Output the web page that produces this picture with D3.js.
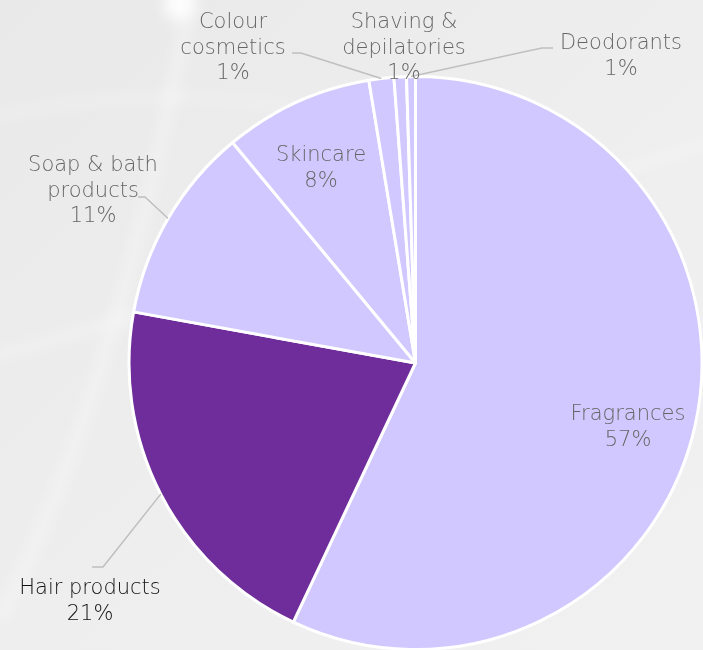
<!DOCTYPE html>
<html>
<head>
<meta charset="utf-8">
<script src="https://cdn.jsdelivr.net/npm/d3@7"></script>
<style>
  html, body { margin: 0; padding: 0; background: #eeeeee; }
  svg { display: block; }
  text { font-family: "DejaVu Sans", sans-serif; font-weight: 200; }
</style>
</head>
<body>
<svg id="chart"></svg>
<script>
const width = 703;
const height = 650;

// Data (share of sales, %)
const categories = ["Fragrances", "Hair products", "Soap & bath products", "Skincare",
  "Colour cosmetics", "Shaving & depilatories", "Deodorants"];
const values = [56.9, 20.8, 11.1, 8.4, 1.4, 0.7, 0.5];
const labelLines = [
  ["Fragrances"],
  ["Hair products"],
  ["Soap & bath", "products"],
  ["Skincare"],
  ["Colour", "cosmetics"],
  ["Shaving &", "depilatories"],
  ["Deodorants"]
];

// layout of the labels (x centre, first baseline, optional elbow for leader line)
const labelLayout = [
  { x: 628, y: 420 },
  { x: 90, y: 594, elbow: [[92, 567], [103, 567]], dark: true },
  { x: 93, y: 171, elbow: [[138, 197], [145, 197]] },
  { x: 321, y: 161 },
  { x: 233, y: 28, elbow: [[292, 53], [301, 53]] },
  { x: 404, y: 28 },
  { x: 621, y: 49, elbow: [[553, 48], [542, 48]] }
];

const colors = ["#d0c8ff", "#6f2d9b", "#d0c8ff", "#d0c8ff", "#d0c8ff", "#d0c8ff", "#d0c8ff"];

const cx = 415.5, cy = 363, radius = 286.5;

const svg = d3.select("#chart")
  .attr("width", width)
  .attr("height", height);

// background
const defs = svg.append("defs");
const bg = defs.append("linearGradient").attr("id", "bg")
  .attr("x1", "0%").attr("y1", "0%").attr("x2", "100%").attr("y2", "100%");
bg.append("stop").attr("offset", "0%").attr("stop-color", "#e9e9e9");
bg.append("stop").attr("offset", "50%").attr("stop-color", "#eeeeee");
bg.append("stop").attr("offset", "100%").attr("stop-color", "#f1f1f1");
defs.append("filter").attr("id", "blur").append("feGaussianBlur").attr("stdDeviation", 7);

svg.append("rect").attr("width", width).attr("height", height).attr("fill", "url(#bg)");

const glow = svg.append("g").attr("filter", "url(#blur)").attr("fill", "none").attr("stroke", "#ffffff");
glow.append("path").attr("d", "M-20,360 Q200,300 720,140").attr("stroke-width", 8).attr("opacity", 0.4);
glow.append("path").attr("d", "M0,620 Q120,380 190,0").attr("stroke-width", 12).attr("opacity", 0.35);
glow.append("circle").attr("cx", 180).attr("cy", 4).attr("r", 16).attr("fill", "#ffffff").attr("opacity", 0.9);
glow.append("path").attr("d", "M-20,120 Q150,80 300,110").attr("stroke-width", 8).attr("opacity", 0.3);

// pie
const pie = d3.pie().sort(null).value(d => d.value);
const data = pie(categories.map((c, i) => ({ name: c, value: values[i], i })));
const total = d3.sum(values);

const arc = d3.arc().innerRadius(0).outerRadius(radius);
const edgeArc = d3.arc().innerRadius(radius).outerRadius(radius);

const g = svg.append("g").attr("transform", `translate(${cx},${cy})`);

g.selectAll("path.slice")
  .data(data)
  .enter().append("path")
  .attr("class", "slice")
  .attr("d", arc)
  .attr("fill", d => colors[d.data.i])
  .attr("stroke", "#ffffff")
  .attr("stroke-width", 3)
  .attr("stroke-linejoin", "round");

// leader lines
data.forEach(d => {
  const lay = labelLayout[d.data.i];
  if (!lay.elbow) return;
  const [ex, ey] = edgeArc.centroid(d);
  const pts = lay.elbow.concat([[ex + cx, ey + cy]]);
  svg.append("path")
    .attr("d", d3.line()(pts))
    .attr("fill", "none")
    .attr("stroke", "#bfbfbf")
    .attr("stroke-width", 1.5);
});

// labels
data.forEach(d => {
  const lay = labelLayout[d.data.i];
  const lines = labelLines[d.data.i].concat([Math.round(d.data.value / total * 100) + "%"]);
  const t = svg.append("text")
    .attr("text-anchor", "middle")
    .attr("font-size", 21)
    .attr("fill", lay.dark ? "#111111" : "#666666");
  lines.forEach((l, k) => {
    t.append("tspan").attr("x", lay.x).attr("y", lay.y + k * 25.5).text(l);
  });
});
</script>
</body>
</html>
